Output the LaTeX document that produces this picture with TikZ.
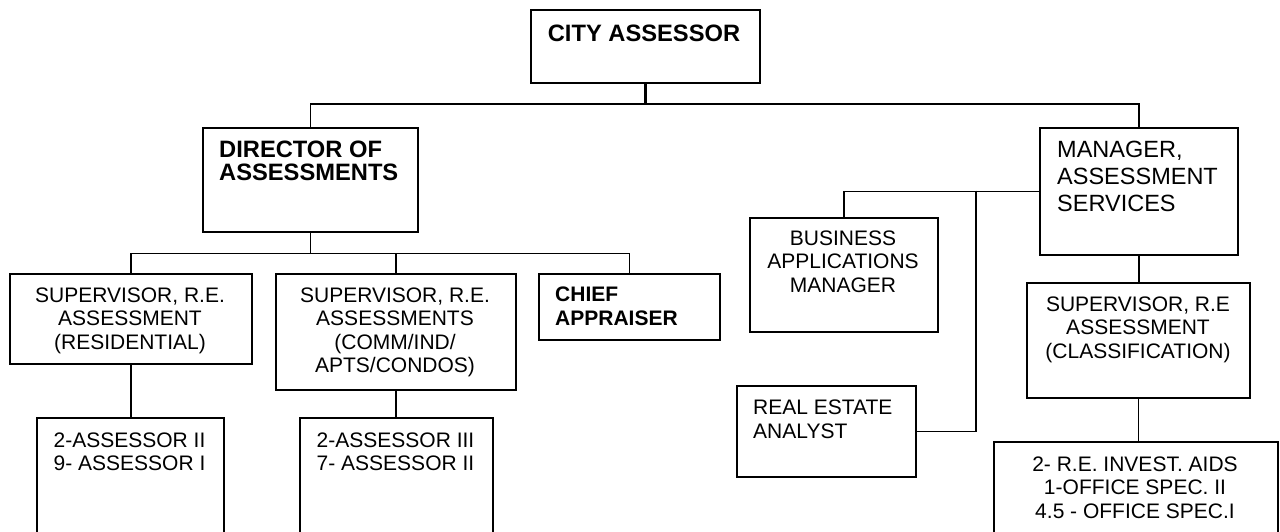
\documentclass[tikz,border=0pt]{standalone}
\usepackage{fontspec}
\setmainfont{Liberation Sans}
% stacked lines: first-line baseline is the box baseline
\newcommand\clines[1]{\vtop{\halign{\hfil##\hfil\cr#1\crcr}}}
\newcommand\llines[1]{\vtop{\halign{##\hfil\cr#1\crcr}}}
\begin{document}
\begin{tikzpicture}[x=1pt,y=-1pt,
  box/.style={draw, line width=1.6pt, inner sep=0pt, anchor=north west},
  link/.style={line width=1.4pt},
  stem/.style={line width=2.6pt},
  txt/.style={inner sep=0pt, anchor=base, font=\fontsize{21}{23.5}\selectfont},
  ltxt/.style={inner sep=0pt, anchor=base west, font=\fontsize{21}{23.5}\selectfont},
  btxt/.style={inner sep=0pt, anchor=base west, font=\fontsize{23.7}{23}\selectfont\bfseries},
]
\useasboundingbox (0,0) rectangle (1280,531);
\clip (0,0) rectangle (1280,531);

% boxes
\node[box, minimum width=229pt, minimum height=73pt]  (city)  at (530,9)   {};
\node[box, minimum width=215pt, minimum height=104pt] (dir)   at (202,127) {};
\node[box, minimum width=242pt, minimum height=90pt]  (res)   at (9,273)   {};
\node[box, minimum width=240pt, minimum height=116pt] (comm)  at (275,273) {};
\node[box, minimum width=181pt, minimum height=66pt]  (chief) at (538,273) {};
\node[box, minimum width=187pt, minimum height=140pt] (bres)  at (36,417)  {};
\node[box, minimum width=193pt, minimum height=140pt] (bcomm) at (299,417) {};
\node[box, minimum width=198pt, minimum height=127pt] (mgr)   at (1039,127) {};
\node[box, minimum width=188pt, minimum height=114pt] (bus)   at (749,217) {};
\node[box, minimum width=179pt, minimum height=91pt]  (rea)   at (736,385) {};
\node[box, minimum width=223pt, minimum height=115pt] (cls)   at (1026,282) {};
\node[box, minimum width=284pt, minimum height=120pt] (off)   at (993,441) {};

% texts
\node[btxt, anchor=base] (tcity) at (644,41) {CITY ASSESSOR};
\node[btxt] (tdir) at (219,157) {\llines{DIRECTOR OF\cr ASSESSMENTS}};
\node[txt] (tres) at (130,302) {\clines{SUPERVISOR, R.E.\cr ASSESSMENT\cr (RESIDENTIAL)}};
\node[txt] (tcomm) at (395,302) {\clines{SUPERVISOR, R.E.\cr ASSESSMENTS\cr (COMM/IND/\cr APTS/CONDOS)}};
\node[btxt, font=\fontsize{21}{24}\selectfont\bfseries] (tchief) at (555,301) {\llines{CHIEF\cr APPRAISER}};
\node[txt] (tbres) at (129.5,447) {\clines{2-ASSESSOR II\cr 9- ASSESSOR I}};
\node[txt] (tbcomm) at (395.5,447) {\clines{2-ASSESSOR III\cr 7- ASSESSOR II}};
\node[ltxt, font=\fontsize{23.5}{27}\selectfont] (tmgr) at (1057,157) {\llines{MANAGER,\cr ASSESSMENT\cr SERVICES}};
\node[txt] (tbus) at (843,245) {\clines{BUSINESS\cr APPLICATIONS\cr MANAGER}};
\node[ltxt, font=\fontsize{21}{24}\selectfont] (trea) at (753,414) {\llines{REAL ESTATE\cr ANALYST}};
\node[txt] (tcls) at (1138,311) {\clines{SUPERVISOR, R.E\cr ASSESSMENT\cr (CLASSIFICATION)}};
\node[txt] (toff) at (1135,471) {\clines{2- R.E. INVEST. AIDS\cr 1-OFFICE SPEC. II\cr 4.5 - OFFICE SPEC.I}};

% connectors
\coordinate (top) at (city.south |- 0,104);
\draw[stem] (city.south) -- (top);
\draw[link] (top) -| (dir.north);
\draw[link] (top) -| (mgr.north);

\draw[link] (dir.south) -- ++(0,21) coordinate (dbus);
\draw[link] (dbus) -| (res.north);
\draw[link] (dbus) -| (comm.north);
\draw[link] (dbus) -| (chief.north);
\draw[link] (res.south) -- (res.south |- bres.north);
\draw[link] (comm.south) -- (comm.south |- bcomm.north);

\coordinate (jct) at (976,190.5);
\draw[link] (mgr.west) -| (bus.north);
\draw[link] (jct) |- (rea.east);
\draw[link] (mgr.south) -- (mgr.south |- cls.north);
\draw[link] (cls.south) -- (cls.south |- off.north);
\end{tikzpicture}
\end{document}
